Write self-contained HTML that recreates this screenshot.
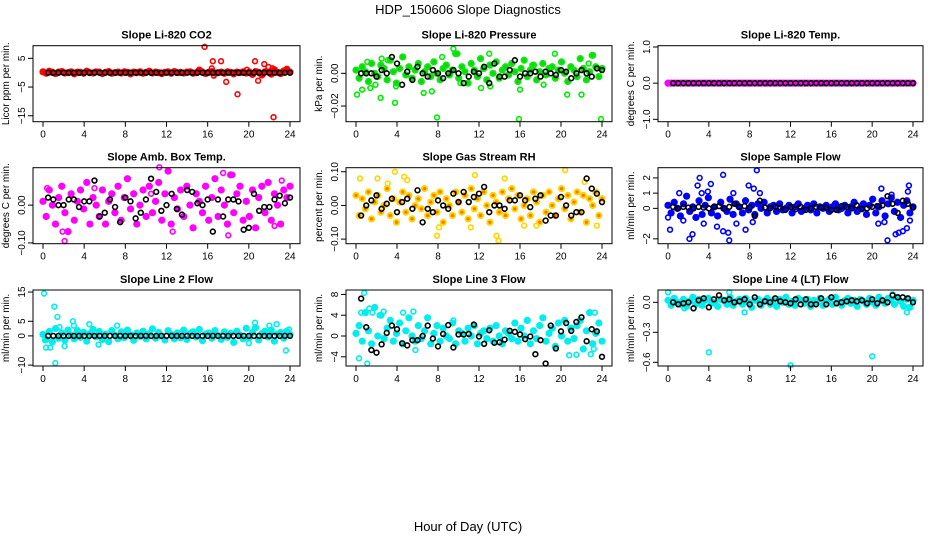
<!DOCTYPE html>
<html><head><meta charset="utf-8"><style>
html,body{margin:0;padding:0;background:#fff;}
svg{display:block;font-family:"Liberation Sans",Arial,sans-serif;}
</style></head><body>
<svg id="chart" width="936" height="540" viewBox="0 0 936 540">
<text x="468" y="14" text-anchor="middle" font-size="13">HDP_150606  Slope Diagnostics</text>
<text x="468" y="531" text-anchor="middle" font-size="13">Hour of Day (UTC)</text>
</svg>
<script>
const xTicks=[0,4,8,12,16,20,24];
// Panel 1 CO2
const co2Main=[0.3,-0.2,0.5,0.1,-0.3,0.2,0.4,-0.1,0.0,0.3,-0.4,0.2,0.1,-0.2,0.5,0.0,-0.1,0.3,0.2,-0.3,0.1,0.4,-0.2,0.0,0.2,-0.1,0.3,0.1,-0.4,0.2,0.0,0.3,-0.2,0.1,0.5,-0.1,0.2,0.0,-0.3,0.1,0.3,-0.2,0.4,0.0,0.1,-0.1,0.2,0.3,-0.2,0.0,0.9,0.2,-0.3,0.1,0.4,-0.1,0.0,0.2,-0.2,0.3,0.1,-0.4,0.2,0.0,0.3,-0.1,0.2,-0.6,0.4,0.1,-0.8,0.3,0.2,-0.5,1.0,0.1,-0.3,0.6,1.2,0.2];
const co2OutHours=[15.7,16.5,16.4,17.3,17.8,18.9,20.6,20.9,21.5,21.9,22.3,22.4,16.6,19.8];
const co2OutValues=[9,4,1.5,4,-3.2,-7.5,4,-2.8,3,2,1.5,-15.5,-1,1];
const co2Black=[0,0,0,0,0,0,0,0,0,0,0,0,0,0,0,0,0,0,0,0,0,0,0,0,0,0,0,0,0,0,0,0,0,0,0,0,0,0,0,0,0,0,0,0,0,0,0,0];
const co2Ticks=[5,-5,-15];
// Panel 2 pressure
const presMain=[0.002,-0.003,0.004,0.001,-0.005,0.006,0.000,-0.002,0.005,0.003,-0.004,0.008,0.001,-0.006,0.003,0.010,-0.001,0.004,-0.003,0.002,0.006,-0.005,0.001,0.004,-0.002,0.007,0.000,-0.004,0.003,0.005,-0.001,0.002,0.012,-0.003,0.004,0.001,-0.006,0.006,0.002,-0.002,0.009,0.003,-0.004,0.005,0.000,0.007,-0.003,0.002,0.004,-0.001,0.006,0.001,-0.005,0.003,0.008,-0.002,0.002,0.005,-0.004,0.001,0.006,-0.001,0.003,0.004,-0.003,0.002,0.007,0.000,-0.005,0.004,0.002,-0.002,0.009,0.003,-0.004,0.001,0.011,0.004,-0.002,0.003];
const presOutHours=[0.1,0.6,1.1,1.4,1.9,2.4,2.5,3.1,3.8,3.9,6.6,7.4,7.9,8.4,9.5,9.9,10.2,12.2,13.0,13.1,15.9,16.0,17.2,18.3,19.4,20.6,22.0,23.0,23.9,22.7];
const presOutValues=[-0.013,-0.010,0.007,-0.009,-0.007,-0.015,0.009,0.008,-0.018,-0.008,-0.012,-0.011,-0.027,0.010,0.015,0.012,-0.006,-0.009,0.012,-0.008,-0.028,-0.010,0.005,-0.007,0.012,-0.013,-0.013,0.011,-0.028,0.006];
const presBlack=[0.000,0.000,0.000,-0.002,0.002,0.000,0.010,0.006,-0.007,0.001,-0.004,0.004,0.000,-0.002,0.002,0.000,-0.003,0.000,0.002,0.000,-0.006,-0.002,0.001,0.000,0.004,-0.006,0.006,-0.002,-0.002,0.002,0.008,-0.002,0.000,0.000,0.001,-0.002,0.001,0.000,-0.001,0.002,0.001,-0.003,0.000,0.002,0.000,-0.002,0.003,0.002];
const presTicks=[0.00,-0.02];
const presTickLabels=["0.00","\u22120.02"];
// Panel 3 Li-820 temp
const tempMain=[0,0,0,0,0,0,0,0,0,0,0,0,0,0,0,0,0,0,0,0,0,0,0,0,0,0,0,0,0,0,0,0,0,0,0,0,0,0,0,0,0,0,0,0,0,0,0,0,0,0,0,0,0,0,0,0,0,0,0,0,0,0,0,0,0,0,0,0,0,0,0,0,0,0,0,0,0,0,0,0];
const tempBlack=[0,0,0,0,0,0,0,0,0,0,0,0,0,0,0,0,0,0,0,0,0,0,0,0,0,0,0,0,0,0,0,0,0,0,0,0,0,0,0,0,0,0,0,0,0,0,0,0];
const tempTicks=[1.0,0.0,-1.0];
const tempTickLabels=["1.0","0.0","\u22121.0"];
// Panel 4 amb box temp
const ambMain=[0.01,-0.03,0.04,0.00,-0.05,0.02,0.05,-0.02,-0.07,0.03,-0.04,0.01,0.04,-0.01,0.06,-0.05,0.02,0.00,-0.03,0.04,-0.05,0.01,0.03,-0.02,0.05,-0.04,0.02,0.07,-0.01,0.03,-0.05,0.00,0.04,-0.03,0.05,-0.02,0.01,0.06,-0.04,0.03,0.09,-0.05,0.02,-0.01,0.04,-0.03,0.05,0.00,-0.06,0.03,0.01,-0.02,0.05,-0.04,0.02,0.07,-0.03,0.04,0.00,-0.05,0.08,-0.02,0.03,0.05,-0.04,0.01,-0.03,0.04,-0.06,0.02,0.05,-0.02,0.06,-0.04,0.03,0.00,-0.05,0.04,0.02,0.05];
const ambOutHours=[1.9,2.1,8.2,11.3,12.6,17.5,18.0,18.4,21.9,22.5,23.2,0.4,10.5,5.0];
const ambOutValues=[-0.07,-0.095,0.07,0.10,-0.07,0.085,-0.08,0.08,0.06,-0.055,0.065,0.045,0.03,0.045];
const ambBlack=[0.02,0.015,0.000,0.000,0.015,0.015,-0.005,0.010,0.01,0.065,-0.03,-0.02,0.015,-0.005,-0.045,0.02,0.01,-0.035,-0.02,0.015,0.07,0.035,-0.015,0.000,0.03,-0.01,-0.025,0.04,0.035,0.005,0.000,0.015,-0.07,0.015,-0.03,0.015,0.015,0.010,-0.065,-0.060,0.030,-0.015,-0.005,-0.005,0.015,0.025,0.005,0.020];
const ambTicks=[0.00,-0.10];
const ambTickLabels=["0.00","\u22120.10"];
// Panel 5 RH
const rhMain=[0.03,-0.03,0.02,-0.01,0.04,-0.04,0.01,0.03,-0.02,0.00,0.05,-0.03,0.02,-0.05,0.01,0.04,-0.02,0.03,-0.04,0.00,0.02,-0.01,0.05,-0.03,0.01,0.03,-0.02,0.04,-0.05,0.02,0.00,-0.03,0.04,0.01,-0.02,0.03,-0.04,0.05,-0.01,0.02,-0.03,0.04,0.00,-0.05,0.03,0.01,-0.02,0.04,-0.03,0.02,0.05,-0.01,0.03,-0.04,0.00,0.02,-0.03,0.04,0.01,-0.05,0.03,-0.02,0.04,0.00,-0.03,0.02,0.05,-0.01,0.03,-0.04,0.01,0.04,-0.02,0.03,-0.05,0.02,0.00,0.04,-0.03,0.02];
const rhOutHours=[0.4,2.1,3.1,3.8,4.7,5.0,7.9,8.1,11.6,13.7,13.9,14.5,17.6,20.4,22.3,23.5,11.2,16.4];
const rhOutValues=[0.08,0.08,0.065,0.10,0.085,0.075,-0.09,-0.065,0.09,-0.09,-0.105,0.08,-0.06,0.105,0.07,-0.06,-0.065,-0.06];
const rhBlack=[-0.03,0.00,0.015,0.03,-0.01,0.005,0.02,-0.02,0.01,0.02,-0.01,0.045,-0.05,-0.01,-0.02,0.015,0.00,-0.01,0.035,0.01,0.04,0.01,0.025,0.035,0.055,-0.02,0.0,0.0,-0.01,0.015,0.015,0.03,0.015,-0.005,0.02,0.03,-0.045,-0.03,-0.03,0.025,0.0,-0.03,-0.02,-0.02,0.08,0.05,0.035,0.01];
const rhTicks=[0.10,0.00,-0.10];
const rhTickLabels=["0.10","0.00","\u22120.10"];
// Panel 6 sample flow
const sfMain=[0.2,-0.3,0.4,0.0,-0.5,0.3,0.8,-0.2,0.1,-0.6,0.5,-0.4,0.2,0.7,-0.3,0.1,-0.5,0.4,0.0,-0.2,0.6,-0.4,0.3,0.1,-0.3,0.5,-0.1,0.2,-0.4,0.3,0.0,0.4,-0.3,0.1,0.2,-0.2,0.3,-0.1,0.0,0.2,-0.3,0.1,0.3,-0.2,0.0,0.2,-0.1,0.3,-0.3,0.1,0.0,0.2,-0.2,0.1,0.3,-0.1,0.0,0.2,-0.3,0.1,0.4,-0.2,0.0,0.3,-0.4,0.2,0.6,-0.3,0.1,0.5,-0.5,0.3,0.7,-0.2,0.4,-0.6,0.2,0.5,-0.3,0.1];
const sfOutHours=[0.0,0.2,1.1,1.5,2.1,2.4,2.9,3.1,3.3,3.5,3.9,4.2,4.8,5.4,5.4,5.9,6.0,6.4,6.7,7.6,7.9,8.3,8.4,8.7,9.0,20.6,20.9,21.2,21.5,21.9,22.3,22.6,23.0,23.4,23.5,23.6,23.7];
const sfOutValues=[-0.6,-1.4,1.0,-0.8,-2.0,-1.7,1.5,2.0,1.0,-1.0,1.1,1.6,-1.2,-1.5,2.2,-1.6,-2.1,1.0,-1.0,-1.4,1.5,-0.9,1.3,2.5,1.0,-1.0,1.3,-0.9,-2.1,0.9,-1.7,-1.6,-1.5,-1.3,1.1,1.5,-0.8];
const sfBlack=[0.1,0.0,0.1,0.05,0.0,0.1,0.05,0.0,0.1,0.15,0.0,0.1,0.3,0.1,0.15,0.05,-0.5,0.5,0.05,0.0,0.1,0.05,-0.1,0.1,-0.05,0.1,-0.1,0.0,0.1,0.05,0.05,-0.1,-0.1,0.15,0.1,0.0,0.2,-0.05,0.0,0.1,0.15,0.2,0.8,0.3,-0.3,0.5,0.3,0.05];
const sfTicks=[2,1,0,-2];
const sfTickLabels=["2","1","0","\u22122"];
// Panel 7 line 2 flow
const l2Main=[0.5,-1.2,1.5,-2.0,2.5,-0.8,1.0,-1.5,2.0,0.3,-1.0,1.8,-0.5,1.2,-1.8,0.8,2.2,-0.3,1.5,-1.2,0.6,-2.0,1.8,0.2,-1.0,1.4,-0.6,2.0,0.4,-1.5,1.0,-0.2,1.6,-1.0,0.8,2.4,-0.8,1.2,0.0,-1.4,1.8,0.5,-1.0,1.0,-0.6,2.0,-1.2,0.8,1.4,-0.4,2.2,-1.6,0.6,1.0,-0.8,1.8,0.2,-1.2,1.4,-0.5,0.9,-2.2,1.6,0.3,-1.0,2.6,-0.6,1.2,2.8,-1.4,0.8,1.6,-0.4,2.0,-1.8,0.6,1.2,-0.8,1.6,0.4];
const l2OutHours=[0.1,0.2,0.3,0.7,1.1,1.2,1.4,1.6,2.1,2.9,3.0,4.5,5.4,7.2,20.0,20.6,22.7,23.6,22.0,23.9];
const l2OutValues=[14.5,-1.5,-4.0,-4.0,10.0,-9.3,6.5,3.0,-3.5,5.0,3.5,4.0,-3.0,3.5,-2.5,4.5,4.0,-5.0,3.5,2.2];
const l2Black=[0,0,0,0,0,0,0,0,0,0,0,0,0,0,0,0,0,0,0,0,0,0,0,0,0,0,0,0,0,0,0,0,0,0,0,0,0,0,0,0,0,0,0,0,0,0,0,0];
const l2Ticks=[15,5,0,-10];
const l2TickLabels=["15","5","0","\u221210"];
// Panel 8 line 3 flow
const l3Main=[0.5,2.0,-1.0,4.5,1.0,-1.5,5.5,0.0,4.0,-0.5,1.5,3.0,-1.0,0.5,2.5,-1.5,1.0,3.5,0.0,-1.0,2.0,-0.5,1.0,3.5,-1.5,0.5,2.0,-1.0,1.5,0.0,-0.5,2.5,-1.5,1.0,0.5,-1.0,1.5,0.0,2.0,-1.5,0.5,1.0,-0.5,1.5,-1.0,2.0,0.0,-1.5,1.0,0.5,-0.5,2.5,-1.0,1.5,0.0,3.0,-1.5,1.0,-0.5,2.0,3.5,-1.0,0.5,1.5,-2.0,2.5,0.0,3.0,-1.0,1.5,-0.5,2.0,3.0,-2.5,1.0,4.5,-1.5,0.5,2.5,-1.0];
const l3OutHours=[0.3,0.5,0.8,1.1,1.3,1.6,2.3,2.7,4.6,5.6,5.8,20.8,22.9,23.2,23.3,21.5,9.5];
const l3OutValues=[-4.3,4.5,8.3,-5.3,5.3,4.5,4.0,4.7,4.5,4.7,-2.7,-3.7,-3.5,-2.5,4.5,-3.6,3.0];
const l3Black=[7.2,1.7,-2.7,-3.2,-1.6,0.6,2.0,1.3,-1.4,-1.8,-0.8,-0.8,0.0,2.0,-0.5,-2.0,0.4,2.1,-2.2,0.3,0.3,0.4,2.2,-0.1,-1.5,1.1,-1.3,-1.2,-0.7,1.0,0.8,0.3,-0.6,-0.1,-3.5,-0.8,-5.3,2.0,-2.4,0.9,2.5,1.0,2.7,3.6,-1.0,1.3,0.9,-4.0];
const l3Ticks=[8,4,0,-4];
const l3TickLabels=["8","4","0","\u22124"];
// Panel 9 line 4 flow
const l4Main=[0.02,-0.03,0.04,0.00,-0.02,0.03,-0.04,0.01,0.05,-0.02,0.03,-0.03,0.02,0.04,-0.01,0.00,-0.04,0.03,0.02,-0.02,0.05,-0.03,0.01,0.03,-0.02,0.04,0.00,-0.05,0.02,0.03,-0.03,0.01,0.04,-0.02,0.02,-0.04,0.03,0.00,0.05,-0.02,0.01,-0.03,0.04,0.02,-0.01,0.03,-0.04,0.02,0.00,0.04,-0.03,0.01,0.03,-0.02,0.05,0.00,-0.03,0.02,0.04,-0.01,0.02,-0.04,0.03,0.01,-0.02,0.04,0.00,-0.03,0.05,0.02,-0.01,0.04,0.03,-0.02,0.05,0.01,-0.04,0.03,-0.05,0.02];
const l4OutHours=[0.0,4.0,12.0,20.0,1.6,7.5,23.4,6.0,22.0];
const l4OutValues=[0.10,-0.50,-0.63,-0.54,-0.06,-0.10,-0.10,0.10,0.08];
const l4Black=[0.0,-0.02,-0.01,0.0,-0.06,0.02,0.04,-0.05,0.03,0.07,0.02,0.03,0.0,0.01,0.03,-0.02,0.05,-0.02,0.01,0.0,0.04,0.01,0.0,-0.01,0.03,-0.02,0.03,-0.02,-0.02,0.04,-0.02,0.05,-0.01,0.0,0.01,0.02,0.01,0.02,-0.01,0.03,-0.01,0.02,0.0,0.07,0.05,0.05,0.04,0.0];
const l4Ticks=[0.0,-0.3,-0.6];
const l4TickLabels=["0.0","\u22120.3","\u22120.6"];

const svg=document.getElementById('chart');
const NS='http://www.w3.org/2000/svg';
function mk(tag,attrs,parent){const e=document.createElementNS(NS,tag);for(const k in attrs)e.setAttribute(k,attrs[k]);(parent||svg).appendChild(e);return e;}

const cols=[[33,300],[346,612],[658,923]];
const rows=[[45.7,121.7],[167.7,243.7],[290,366]];
const panels=[
 {name:'co2',title:'Slope Li-820 CO2',yl:'Licor ppm per min.',c:0,r:0,ymin:-17.07,ymax:9.4,main:co2Main,oh:co2OutHours,ov:co2OutValues,blk:co2Black,ticks:co2Ticks,labels:["5","\u22125","\u221215"],col:'#ff0000',fill:'#ff0000'},
 {name:'pressure',title:'Slope Li-820 Pressure',yl:'kPa per min.',c:1,r:0,ymin:-0.0296,ymax:0.0169,main:presMain,oh:presOutHours,ov:presOutValues,blk:presBlack,ticks:presTicks,labels:presTickLabels,col:'#00ee00',fill:'#33bb33'},
 {name:'li820-temp',title:'Slope Li-820 Temp.',yl:'degrees C per min.',c:2,r:0,ymin:-1.066,ymax:1.036,main:tempMain,oh:[],ov:[],blk:tempBlack,ticks:tempTicks,labels:tempTickLabels,col:'#ff00ff',fill:'#ff00ff'},
 {name:'amb-box-temp',title:'Slope Amb. Box Temp.',yl:'degrees C per min.',c:0,r:1,ymin:-0.102,ymax:0.099,main:ambMain,oh:ambOutHours,ov:ambOutValues,blk:ambBlack,ticks:ambTicks,labels:ambTickLabels,col:'#ff00ff',fill:'#ff00ff'},
 {name:'gas-stream-rh',title:'Slope Gas Stream RH',yl:'percent per min.',c:1,r:1,ymin:-0.1136,ymax:0.112,main:rhMain,oh:rhOutHours,ov:rhOutValues,blk:rhBlack,ticks:rhTicks,labels:rhTickLabels,col:'#ffd400',fill:'#f07800'},
 {name:'sample-flow',title:'Slope Sample Flow',yl:'ml/min per min.',c:2,r:1,ymin:-2.32,ymax:2.67,main:sfMain,oh:sfOutHours,ov:sfOutValues,blk:sfBlack,ticks:sfTicks,labels:sfTickLabels,col:'#0000ff',fill:'#0000ff'},
 {name:'line2-flow',title:'Slope Line 2 Flow',yl:'ml/min per min.',c:0,r:2,ymin:-10.3,ymax:15.7,main:l2Main,oh:l2OutHours,ov:l2OutValues,blk:l2Black,ticks:l2Ticks,labels:l2TickLabels,col:'#00eeee',fill:'#00eeee'},
 {name:'line3-flow',title:'Slope Line 3 Flow',yl:'ml/min per min.',c:1,r:2,ymin:-5.77,ymax:8.85,main:l3Main,oh:l3OutHours,ov:l3OutValues,blk:l3Black,ticks:l3Ticks,labels:l3TickLabels,col:'#00eeee',fill:'#00eeee'},
 {name:'line4-flow',title:'Slope Line 4 (LT) Flow',yl:'ml/min per min.',c:2,r:2,ymin:-0.637,ymax:0.123,main:l4Main,oh:l4OutHours,ov:l4OutValues,blk:l4Black,ticks:l4Ticks,labels:l4TickLabels,col:'#00eeee',fill:'#00eeee'}
];

panels.forEach(p=>{
 const L=cols[p.c][0],R=cols[p.c][1],T=rows[p.r][0],B=rows[p.r][1];
 const g=mk('g',{});
 
 
 const xs=h=>L+10+(R-L-20)*h/24;
 const ys=v=>B-(v-p.ymin)/(p.ymax-p.ymin)*(B-T);
 const t=mk('text',{x:(L+R)/2,y:T-7,'text-anchor':'middle','font-size':'11','font-weight':'bold'},g);
 t.textContent=p.title;
 
 
 const yl=mk('text',{x:0,y:0,'text-anchor':'middle','font-size':'10',transform:`translate(${L-24},${(T+B)/2}) rotate(-90)`},g);
 yl.textContent=p.yl;
 
 
 const pts=mk('g',{fill:p.fill,stroke:p.col,'stroke-width':'2'},g);
 
 
 const n=p.main.length;
 p.main.forEach((v,i)=>{
  const c=mk('circle',{cx:xs(i*24/(n-1)),cy:ys(v),r:2.6},pts);
  
  
 });
 const op=mk('g',{fill:'none',stroke:p.col,'stroke-width':'1.6'},g);
 
 
 p.oh.forEach((h,i)=>{
  const c=mk('circle',{cx:xs(h),cy:ys(p.ov[i]),r:2.4},op);
  
  
 });
 const bp=mk('g',{fill:'none',stroke:'#000','stroke-width':'1.6'},g);
 
 
 p.blk.forEach((v,i)=>{
  const c=mk('circle',{cx:xs((i+1)*0.5),cy:ys(v),r:2.4},bp);
  
  
 });
 const box=mk('rect',{x:L,y:T,width:R-L,height:B-T,fill:'none',stroke:'#000','stroke-width':'1'},g);
 
 
 xTicks.forEach(h=>{
  const x=xs(h);
  const tk=mk('line',{x1:x,x2:x,y1:B,y2:B+5,stroke:'#000'},g);
  
  
  const tl=mk('text',{x:x,y:B+16,'text-anchor':'middle','font-size':'10'},g);
  tl.textContent=String(h);
  
  
 });
 p.ticks.forEach((v,i)=>{
  const y=ys(v);
  const tk=mk('line',{x1:L-5,x2:L,y1:y,y2:y,stroke:'#000'},g);
  
  
  const tl=mk('text',{x:0,y:0,'text-anchor':'middle','font-size':'10',transform:`translate(${L-8},${y}) rotate(-90)`},g);
  tl.textContent=p.labels[i];
  
  
 });
});
</script>
</body></html>
